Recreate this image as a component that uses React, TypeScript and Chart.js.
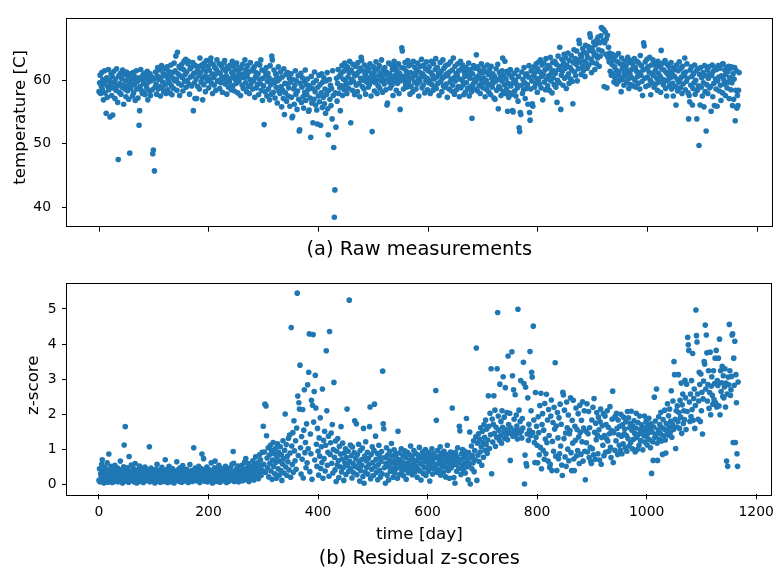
import React, { useEffect, useRef } from 'react';
import { Chart, registerables } from 'chart.js';

Chart.register(...registerables);

// ---- Data (one value per day, day = index) ----
// Temperature [C], days 0-299
const tempA = [
  58.2, 59.6, 60.8, 57.9, 59.1, 61.2, 58.6, 60.1, 56.9, 59.4,
  61.5, 58.0, 59.8, 54.8, 60.4, 57.3, 59.0, 61.7, 58.5, 60.0,
  54.2, 59.3, 61.0, 57.6, 60.6, 54.5, 58.8, 61.4, 59.7, 57.1,
  60.2, 58.4, 61.8, 59.1, 56.5, 47.5, 60.7, 58.1, 59.5, 61.1,
  57.8, 60.3, 58.9, 61.6, 59.2, 56.2, 60.9, 58.6, 59.9, 57.4,
  61.3, 59.0, 58.3, 60.5, 57.0, 59.6, 48.5, 61.0, 58.7, 60.2,
  59.4, 57.5, 61.2, 58.0, 60.7, 59.3, 56.8, 60.0, 61.5, 58.6,
  59.8, 57.2, 60.4, 52.9, 55.2, 59.0, 61.7, 58.4, 60.1, 57.9,
  60.8, 59.5, 58.1, 61.1, 57.7, 60.3, 59.2, 58.8, 61.4, 56.9,
  59.7, 60.6, 58.3, 61.0, 57.6, 59.9, 60.5, 58.5, 48.4, 49.0,
  60.2, 45.7, 58.9, 61.3, 59.4, 57.8, 60.7, 62.0, 58.6, 60.1,
  59.0, 61.6, 57.5, 60.4, 62.3, 58.8, 59.7, 61.0, 58.2, 60.9,
  61.8, 59.3, 57.9, 60.6, 62.1, 58.5, 60.0, 61.4, 59.6, 58.0,
  60.8, 62.4, 59.1, 57.7, 61.2, 60.3, 58.7, 62.7, 59.9, 61.5,
  63.8, 60.1, 58.4, 64.4, 61.0, 59.5, 62.2, 57.6, 60.7, 61.9,
  59.2, 62.5, 60.4, 58.3, 61.7, 63.0, 59.8, 60.9, 63.3, 58.9,
  61.3, 60.0, 62.6, 63.0, 59.4, 57.8, 61.8, 60.5, 62.0, 59.1,
  60.7, 62.8, 55.2, 61.1, 59.6, 57.1, 62.3, 60.2, 57.1, 61.5,
  59.0, 62.1, 60.8, 58.6, 63.5, 61.2, 59.7, 62.4, 60.3, 56.9,
  61.9, 59.3, 62.7, 60.6, 58.2, 61.4, 63.1, 59.9, 60.5, 62.2,
  58.8, 61.6, 60.1, 62.9, 63.5, 59.5, 61.0, 57.9, 62.5, 60.4,
  59.2, 62.0, 60.9, 58.4, 61.7, 63.2, 59.8, 61.3, 60.0, 62.6,
  58.7, 61.1, 59.6, 62.3, 60.5, 58.1, 61.8, 60.2, 62.8, 63.1,
  59.4, 61.5, 60.7, 57.8, 62.1, 60.0, 58.9, 61.9, 59.7, 62.4,
  60.3, 58.5, 61.2, 63.0, 59.1, 60.8, 62.2, 58.3, 61.6, 60.1,
  59.5, 62.7, 60.6, 58.0, 61.4, 59.8, 62.0, 60.3, 57.6, 61.9,
  60.9, 59.2, 62.5, 58.7, 61.0, 60.4, 63.2, 59.6, 61.7, 58.2,
  60.7, 62.3, 59.0, 61.3, 57.9, 60.1, 62.8, 59.4, 61.5, 60.0,
  58.6, 61.8, 59.9, 62.1, 57.3, 60.5, 61.2, 58.8, 62.6, 59.3,
  61.0, 57.7, 60.2, 62.4, 59.5, 63.2, 58.4, 61.6, 56.8, 60.3,
];
// Temperature [C], days 300-599
const tempB = [
  59.1, 53.0, 61.4, 58.2, 60.7, 62.0, 57.5, 59.8, 61.1, 58.6,
  60.4, 56.9, 62.3, 59.3, 57.8, 63.8, 63.2, 60.0, 58.1, 61.6,
  59.6, 57.2, 61.0, 58.9, 60.6, 56.4, 59.9, 62.1, 58.3, 60.2,
  57.9, 61.3, 59.0, 55.8, 60.5, 58.4, 57.1, 61.8, 54.6, 59.5,
  58.0, 60.9, 56.7, 59.4, 61.2, 57.5, 58.8, 60.3, 55.9, 59.7,
  61.0, 57.3, 54.1, 54.3, 60.1, 58.6, 56.2, 59.2, 61.5, 57.8,
  59.9, 55.4, 58.3, 60.7, 57.0, 52.0, 52.2, 59.5, 61.1, 56.5,
  58.9, 60.4, 57.4, 55.6, 59.8, 58.1, 61.6, 56.8, 59.3, 57.7,
  60.2, 58.5, 55.1, 55.3, 59.1, 57.2, 51.0, 60.6, 56.4, 58.7,
  53.3, 59.6, 57.0, 61.3, 58.2, 56.1, 60.0, 55.3, 53.1, 58.9,
  57.5, 60.8, 56.6, 59.3, 52.9, 58.0, 61.0, 55.7, 59.7, 57.3,
  60.4, 56.3, 58.6, 54.8, 59.9, 57.8, 61.2, 55.5, 51.4, 58.4,
  60.1, 57.0, 59.2, 56.0, 58.7, 53.9, 61.5, 57.6, 49.4, 38.4,
  42.7, 58.0, 52.6, 60.3, 56.7, 59.5, 61.7, 57.9, 60.6, 58.8,
  55.2, 61.0, 59.1, 62.3, 57.6, 60.2, 61.4, 58.5, 62.7, 60.0,
  59.3, 61.8, 57.9, 62.1, 60.5, 58.7, 61.2, 63.0, 59.6, 53.3,
  61.6, 60.1, 58.4, 62.5, 59.8, 61.0, 57.7, 60.7, 62.2, 59.2,
  60.9, 58.2, 62.8, 61.3, 59.5, 57.4, 61.9, 60.3, 63.6, 63.1,
  59.0, 61.5, 60.0, 58.6, 62.4, 60.8, 57.8, 61.2, 59.7, 62.0,
  60.4, 58.9, 61.7, 59.3, 62.6, 60.2, 57.5, 61.0, 51.9, 59.8,
  62.1, 60.6, 58.3, 61.4, 59.6, 62.9, 60.0, 57.9, 61.8, 59.1,
  60.7, 62.3, 58.7, 61.1, 59.9, 63.2, 60.4, 58.1, 61.6, 60.0,
  59.4, 62.0, 60.9, 58.5, 61.3, 56.1, 56.4, 60.2, 62.7, 59.7,
  61.0, 58.8, 60.5, 62.4, 59.2, 61.7, 57.6, 60.1, 63.0, 59.8,
  60.8, 62.2, 58.4, 61.5, 59.5, 60.3, 62.6, 57.9, 61.1, 55.4,
  59.9, 62.0, 65.1, 64.6, 60.6, 58.6, 61.9, 60.0, 62.8, 59.3,
  61.4, 58.9, 60.7, 63.1, 59.6, 62.3, 60.2, 57.8, 61.2, 59.0,
  62.5, 60.4, 58.2, 63.0, 61.0, 59.7, 62.0, 60.8, 58.6, 61.6,
  59.4, 62.7, 60.1, 57.5, 61.3, 59.8, 62.2, 60.5, 63.3, 58.8,
  61.0, 59.2, 62.4, 60.6, 58.0, 61.8, 59.9, 62.9, 60.3, 58.5,
];
// Temperature [C], days 600-899
const tempC = [
  61.5, 59.6, 62.1, 60.0, 57.9, 61.2, 63.0, 59.3, 60.8, 58.4,
  62.6, 60.2, 59.0, 61.7, 63.4, 58.7, 60.5, 62.0, 59.5, 61.1,
  57.6, 60.9, 62.8, 59.8, 61.4, 58.2, 60.3, 63.2, 59.1, 61.9,
  60.6, 58.9, 62.3, 59.4, 61.0, 57.3, 60.7, 62.5, 58.6, 61.3,
  59.7, 62.9, 60.1, 58.3, 61.6, 59.2, 63.5, 60.4, 57.8, 62.2,
  59.9, 61.1, 58.5, 60.8, 62.6, 59.0, 61.5, 57.4, 60.2, 63.0,
  58.8, 61.8, 60.0, 62.4, 59.3, 57.7, 61.2, 60.6, 58.1, 62.0,
  59.6, 61.4, 58.7, 60.9, 62.7, 57.5, 60.3, 61.7, 59.0, 58.2,
  54.0, 61.0, 59.4, 62.3, 60.1, 58.6, 61.9, 59.8, 64.0, 60.5,
  58.3, 62.1, 60.7, 59.1, 61.5, 57.9, 60.2, 62.6, 59.5, 61.2,
  58.8, 60.4, 62.0, 59.7, 57.4, 61.3, 60.0, 58.5, 62.4, 59.2,
  60.9, 58.1, 61.6, 59.4, 57.7, 62.2, 60.3, 58.9, 61.0, 59.6,
  57.2, 60.6, 57.0, 59.8, 61.8, 58.4, 60.1, 62.5, 55.5, 59.0,
  61.2, 58.7, 60.5, 57.6, 59.9, 61.5, 63.5, 58.2, 60.8, 59.3,
  63.0, 57.9, 60.2, 58.6, 61.4, 55.1, 59.5, 57.3, 60.9, 58.0,
  61.7, 59.1, 57.8, 60.4, 55.2, 55.0, 59.7, 61.1, 58.3, 60.0,
  57.5, 59.4, 61.6, 58.8, 56.7, 60.6, 52.5, 51.9, 54.9, 54.6,
  59.2, 61.3, 57.9, 60.1, 58.5, 62.0, 59.6, 57.1, 60.8, 58.7,
  61.0, 59.3, 56.2, 60.5, 62.3, 54.9, 53.7, 58.6, 61.5, 59.9,
  56.3, 55.9, 60.7, 62.1, 58.9, 61.2, 59.5, 62.6, 60.3, 58.1,
  61.8, 60.0, 62.9, 59.4, 61.3, 63.2, 58.8, 60.6, 62.4, 56.9,
  60.9, 62.7, 59.7, 61.6, 58.5, 63.4, 60.2, 61.9, 59.1, 62.3,
  60.7, 58.4, 62.0, 63.6, 59.9, 61.2, 58.0, 62.8, 60.4, 61.5,
  59.3, 63.0, 61.1, 58.9, 62.5, 56.5, 60.0, 63.8, 61.7, 59.6,
  65.2, 62.2, 55.4, 60.8, 63.3, 61.4, 59.2, 62.7, 64.1, 60.3,
  61.9, 63.5, 58.7, 62.4, 60.6, 64.3, 61.0, 59.5, 63.1, 62.0,
  60.2, 63.9, 61.6, 59.8, 56.3, 62.8, 64.8, 61.3, 63.4, 60.7,
  62.5, 64.6, 59.9, 63.2, 61.8, 66.3, 65.8, 62.9, 64.0, 60.9,
  63.7, 62.2, 65.0, 61.5, 64.4, 63.0, 60.6, 65.5, 62.7, 64.2,
  61.9, 63.6, 65.3, 62.4, 64.7, 67.3, 66.8, 63.3, 61.2, 65.1,
];
// Temperature [C], days 900-1167
const tempD = [
  62.8, 64.5, 66.0, 63.9, 61.7, 65.6, 64.0, 62.6, 66.4, 63.5,
  66.8, 64.8, 62.2, 65.9, 63.8, 67.0, 68.3, 64.6, 68.1, 66.2,
  68.0, 59.0, 65.9, 67.6, 64.1, 66.5, 58.8, 67.1, 63.6, 65.2,
  62.9, 64.3, 61.4, 63.7, 60.8, 62.5, 64.1, 61.0, 63.2, 59.7,
  62.1, 60.3, 63.8, 61.6, 59.4, 62.9, 60.9, 64.2, 61.3, 59.9,
  62.6, 60.5, 58.2, 63.5, 61.8, 60.1, 62.4, 59.2, 61.1, 63.0,
  60.7, 62.2, 59.6, 61.5, 63.6, 60.2, 58.7, 62.8, 61.0, 59.3,
  63.1, 61.7, 60.4, 62.5, 59.1, 61.9, 63.4, 60.0, 62.0, 58.9,
  61.4, 63.0, 60.6, 59.5, 62.7, 61.2, 58.6, 63.9, 60.8, 62.3,
  59.8, 57.6, 61.6, 65.9, 65.4, 60.3, 62.9, 59.0, 61.8, 63.3,
  60.5, 62.1, 59.2, 61.3, 63.6, 60.0, 57.7, 62.4, 59.6, 61.0,
  63.2, 60.7, 58.9, 62.6, 61.5, 59.4, 62.0, 60.3, 58.4, 63.0,
  61.1, 59.7, 62.3, 60.6, 58.1, 64.7, 61.8, 60.2, 62.7, 59.3,
  61.6, 60.0, 63.1, 58.7, 61.2, 57.5, 62.5, 59.9, 60.8, 62.2,
  59.1, 61.4, 60.4, 62.8, 58.6, 61.0, 59.5, 57.5, 62.0, 60.6,
  61.7, 59.0, 56.1, 62.4, 60.2, 58.3, 61.5, 59.7, 62.9, 60.1,
  58.8, 61.9, 60.5, 57.9, 62.2, 59.4, 61.1, 60.7, 63.5, 58.5,
  61.3, 59.8, 62.6, 60.3, 58.0, 53.9, 57.6, 56.6, 61.6, 59.2,
  62.1, 60.6, 56.1, 58.7, 61.0, 59.6, 62.4, 57.8, 60.0, 61.5,
  53.9, 58.4, 61.8, 59.1, 49.7, 60.9, 56.1, 62.0, 58.9, 60.4,
  57.5, 61.2, 59.6, 55.8, 62.3, 58.2, 60.7, 52.0, 59.3, 61.6,
  57.9, 60.3, 62.1, 58.8, 61.0, 59.0, 55.1, 60.8, 62.4, 57.4,
  61.4, 59.5, 56.0, 62.0, 60.2, 58.6, 61.7, 55.9, 59.9, 62.3,
  60.5, 58.3, 61.9, 59.2, 56.8, 60.7, 62.5, 58.0, 62.6, 60.1,
  59.4, 61.6, 57.6, 60.9, 62.0, 58.8, 61.3, 59.7, 62.2, 57.1,
  60.4, 61.8, 58.5, 62.1, 59.6, 56.0, 61.0, 57.0, 60.2, 62.0,
  53.6, 58.4, 61.5, 55.6, 57.6, 56.0, 58.4, 61.2,
];

// Residual z-scores, days 0-299
const zA = [
  0.12, 0.45, 0.08, 0.31, 0.22, 0.58, 0.71, 0.15, 0.38, 0.05,
  0.27, 0.49, 0.10, 0.34, 0.19, 0.62, 0.07, 0.41, 0.87, 0.24,
  0.36, 0.13, 0.52, 0.29, 0.06, 0.44, 0.18, 0.33, 0.09, 0.55,
  0.21, 0.40, 0.14, 0.28, 0.47, 0.08, 0.35, 0.23, 0.11, 0.67,
  0.30, 0.16, 0.43, 0.05, 0.26, 0.51, 1.13, 0.19, 1.65, 0.37,
  0.10, 0.32, 0.48, 0.22, 0.07, 0.80, 0.39, 0.15, 0.27, 0.56,
  0.12, 0.34, 0.20, 0.45, 0.08, 0.29, 0.60, 0.17, 0.38, 0.05,
  0.24, 0.42, 0.13, 0.31, 0.53, 0.09, 0.36, 0.21, 0.16, 0.46,
  0.28, 0.06, 0.39, 0.18, 0.50, 0.25, 0.11, 0.33, 0.43, 0.14,
  0.22, 0.37, 1.08, 0.08, 0.29, 0.47, 0.19, 0.12, 0.40, 0.26,
  0.15, 0.35, 0.05, 0.28, 0.44, 0.20, 0.58, 0.10, 0.32, 0.17,
  0.41, 0.23, 0.07, 0.36, 0.14, 0.49, 0.27, 0.09, 0.19, 0.38,
  0.30, 0.71, 0.12, 0.25, 0.43, 0.06, 0.34, 0.21, 0.52, 0.16,
  0.08, 0.39, 0.26, 0.13, 0.46, 0.30, 0.18, 0.05, 0.37, 0.24,
  0.11, 0.33, 0.65, 0.20, 0.42, 0.15, 0.28, 0.09, 0.48, 0.35,
  0.19, 0.07, 0.31, 0.54, 0.22, 0.40, 0.12, 0.26, 0.36, 0.10,
  0.44, 0.17, 0.29, 0.06, 0.38, 0.23, 0.57, 0.14, 0.32, 0.20,
  0.09, 0.41, 0.27, 1.05, 0.16, 0.35, 0.47, 0.11, 0.24, 0.39,
  0.13, 0.30, 0.52, 0.21, 0.06, 0.37, 0.18, 0.45, 0.87, 0.25,
  0.34, 0.74, 0.10, 0.28, 0.41, 0.15, 0.23, 0.50, 0.08, 0.32,
  0.19, 0.43, 0.27, 0.12, 0.36, 0.62, 0.22, 0.05, 0.39, 0.30,
  0.14, 0.48, 0.67, 0.25, 0.09, 0.34, 0.20, 0.42, 0.16, 0.55,
  0.28, 0.07, 0.38, 0.23, 0.46, 0.11, 0.31, 0.18, 0.40, 0.13,
  0.35, 0.52, 0.21, 0.06, 0.29, 0.44, 0.17, 0.37, 0.10, 0.26,
  0.48, 0.15, 0.33, 0.58, 0.22, 0.94, 0.61, 0.09, 0.39, 0.27,
  0.12, 0.45, 0.30, 0.19, 0.53, 0.08, 0.36, 0.24, 0.41, 0.16,
  0.32, 0.55, 0.11, 0.43, 0.27, 0.20, 0.64, 0.38, 0.74, 0.14,
  0.47, 0.23, 0.35, 0.60, 0.09, 0.41, 0.29, 0.52, 0.18, 0.36,
  0.25, 0.68, 0.44, 0.13, 0.57, 0.33, 0.79, 0.21, 0.49, 0.38,
  0.62, 0.17, 0.46, 0.85, 0.30, 0.71, 0.26, 0.55, 0.92, 0.40,
];
// Residual z-scores, days 300-599
const zB = [
  1.66, 0.58, 0.93, 2.29, 0.35, 2.24, 1.39, 0.76, 0.48, 1.05,
  0.22, 0.84, 0.61, 1.12, 0.39, 0.97, 0.15, 0.70, 1.20, 0.52,
  0.88, 0.31, 1.03, 0.64, 0.18, 0.79, 1.16, 0.45, 0.92, 0.27,
  0.67, 1.08, 0.40, 0.85, 0.12, 0.59, 1.25, 0.74, 0.33, 0.98,
  2.01, 0.50, 1.14, 0.26, 0.81, 0.65, 1.32, 0.42, 1.41, 0.90,
  0.21, 4.47, 1.10, 0.57, 1.48, 0.35, 1.82, 0.96, 0.68, 1.25,
  0.44, 1.61, 5.45, 2.52, 0.83, 2.33, 2.15, 3.40, 1.05, 0.30,
  1.37, 0.72, 2.14, 0.19, 1.55, 2.70, 0.91, 1.20, 0.48, 1.73,
  0.62, 2.84, 1.02, 3.20, 4.29, 0.37, 1.44, 0.88, 2.40, 0.15,
  2.26, 4.27, 1.78, 2.65, 0.70, 3.11, 2.18, 1.15, 0.52, 1.60,
  0.95, 0.27, 1.33, 0.81, 1.90, 0.46, 1.08, 0.63, 2.72, 0.18,
  1.26, 0.74, 1.52, 0.39, 1.12, 3.81, 2.10, 0.55, 0.92, 1.38,
  0.24, 4.36, 0.86, 1.19, 1.47, 0.61, 1.71, 0.33, 1.00, 2.91,
  0.78, 0.42, 1.24, 0.09, 0.95, 0.56, 1.31, 0.68, 0.20, 1.09,
  0.51, 0.87, 1.65, 0.36, 0.73, 1.18, 0.48, 0.12, 0.90, 0.62,
  1.02, 0.29, 0.77, 2.15, 0.54, 0.95, 0.38, 5.25, 0.66, 1.13,
  0.45, 0.82, 0.19, 1.07, 0.60, 0.34, 0.91, 1.82, 0.52, 0.74,
  1.73, 0.28, 0.86, 0.47, 1.15, 0.63, 0.10, 0.97, 0.40, 0.71,
  0.55, 1.04, 0.23, 1.60, 0.04, 0.81, 0.36, 1.22, 0.68, 0.49,
  0.92, 0.30, 0.75, 0.58, 1.65, 2.21, 0.17, 0.86, 0.44, 1.08,
  0.63, 0.26, 0.98, 2.29, 0.51, 1.38, 0.72, 0.35, 0.89, 0.14,
  0.57, 1.12, 0.41, 0.80, 0.22, 0.66, 0.94, 0.31, 3.23, 1.73,
  1.59, 0.48, 0.77, 0.04, 0.60, 1.05, 0.27, 0.84, 0.52, 0.13,
  0.70, 0.95, 0.38, 0.61, 1.17, 0.45, 0.82, 0.21, 0.67, 0.99,
  0.33, 0.56, 0.88, 0.46, 0.74, 0.18, 1.52, 0.62, 0.90, 0.29,
  0.71, 0.49, 1.02, 0.37, 0.64, 0.83, 0.25, 0.58, 0.96, 0.43,
  0.77, 0.15, 0.60, 0.92, 0.51, 0.34, 0.86, 0.69, 0.40, 1.10,
  0.55, 0.81, 0.28, 0.73, 0.47, 0.97, 0.63, 0.36, 0.89, 0.52,
  0.68, 0.21, 0.85, 0.44, 0.75, 1.06, 0.39, 0.60, 0.13, 0.79,
  0.57, 0.93, 0.32, 0.71, 0.48, 0.84, 1.00, 0.26, 0.65, 0.50,
];
// Residual z-scores, days 600-899
const zC = [
  0.74, 0.38, 0.91, 0.56, 0.10, 0.83, 0.47, 0.69, 1.02, 0.30,
  0.62, 0.88, 0.45, 0.76, 0.53, 2.68, 1.83, 0.35, 0.97, 0.59,
  0.81, 0.42, 0.70, 1.08, 0.27, 0.64, 0.90, 0.51, 0.78, 0.36,
  0.95, 0.58, 0.73, 0.22, 0.86, 0.49, 1.12, 0.66, 0.40, 0.80,
  0.18, 0.61, 0.93, 0.47, 0.75, 2.18, 0.55, 0.84, 0.20, 0.69,
  0.04, 0.92, 0.57, 0.38, 0.79, 1.05, 0.63, 0.46, 1.66, 1.53,
  0.71, 0.29, 0.88, 0.54, 1.00, 0.42, 0.76, 0.60, 0.95, 0.33,
  0.82, 1.88, 0.50, 0.68, 0.14, 0.91, 0.58, 1.50, 0.02, 0.77,
  1.10, 0.45, 0.83, 0.62, 1.25, 0.37, 0.97, 0.71, 1.36, 3.89,
  0.12, 1.18, 0.84, 1.45, 0.66, 1.30, 0.93, 1.62, 1.08, 0.55,
  1.52, 1.20, 0.78, 1.71, 1.35, 0.98, 1.84, 1.14, 1.58, 0.89,
  1.27, 2.53, 1.66, 1.03, 2.03, 1.42, 3.30, 0.31, 1.87, 1.21,
  1.72, 2.53, 1.46, 2.12, 1.09, 1.63, 1.35, 3.30, 4.90, 1.95,
  1.55, 1.26, 2.86, 1.40, 1.80, 1.18, 2.10, 1.63, 3.07, 1.48,
  1.92, 1.32, 2.76, 1.57, 1.43, 2.05, 1.28, 3.66, 1.71, 1.50,
  2.03, 0.69, 1.62, 1.45, 3.78, 3.10, 1.38, 2.70, 1.86, 1.54,
  2.56, 1.42, 1.98, 1.67, 1.30, 4.99, 1.55, 2.12, 1.47, 1.80,
  2.96, 1.52, 1.33, 1.88, 1.61, 3.48, 2.88, 0.02, 0.84, 2.77,
  0.60, 0.53, 1.44, 2.47, 1.26, 1.72, 1.55, 3.79, 1.39, 2.10,
  3.20, 3.06, 1.48, 4.51, 1.84, 1.20, 0.63, 2.62, 1.35, 1.66,
  1.12, 0.62, 1.93, 1.48, 0.85, 2.25, 1.06, 2.60, 0.45, 1.71,
  2.02, 0.98, 1.55, 0.72, 2.31, 1.30, 0.88, 2.57, 1.19, 1.84,
  0.67, 2.14, 1.40, 0.49, 0.58, 1.95, 2.41, 0.40, 1.23, 1.77,
  0.95, 2.20, 1.58, 3.47, 0.81, 1.67, 0.40, 2.05, 1.33, 0.74,
  1.90, 0.88, 2.29, 1.10, 1.72, 0.56, 0.26, 2.63, 2.55, 1.31,
  2.12, 0.79, 1.47, 0.52, 2.35, 1.62, 1.01, 1.98, 0.68, 1.45,
  1.54, 2.47, 0.91, 0.40, 1.83, 1.18, 2.40, 0.73, 0.40, 1.66,
  1.26, 2.18, 0.82, 1.57, 0.97, 2.02, 1.36, 0.60, 2.26, 1.49,
  0.86, 1.83, 1.22, 2.36, 0.67, 1.61, 2.10, 0.95, 0.14, 1.52,
  1.19, 2.30, 0.93, 1.45, 2.08, 0.77, 1.62, 1.06, 0.66, 0.60,
];
// Residual z-scores, days 900-1167
const zD = [
  1.84, 1.02, 2.20, 0.85, 2.45, 1.49, 0.72, 1.75, 1.28, 2.05,
  1.41, 0.88, 1.92, 1.56, 0.70, 1.79, 2.15, 0.58, 1.34, 1.68,
  1.12, 2.02, 0.82, 1.40, 1.95, 0.92, 1.71, 1.30, 2.10, 1.24,
  1.63, 0.95, 1.45, 2.22, 1.06, 0.77, 1.54, 1.86, 2.66, 0.63,
  1.48, 1.90, 0.98, 1.95, 1.25, 2.03, 1.60, 0.86, 1.84, 1.42,
  1.12, 1.66, 0.98, 2.00, 1.38, 0.88, 1.70, 1.16, 1.92, 1.45,
  1.58, 1.05, 1.79, 1.40, 0.95, 2.08, 1.31, 1.90, 1.10, 1.62,
  1.74, 1.20, 2.09, 1.55, 1.02, 1.67, 1.29, 1.82, 1.46, 0.93,
  1.61, 2.03, 1.34, 1.00, 1.77, 1.43, 1.12, 1.95, 1.57, 1.25,
  1.25, 1.70, 1.48, 0.99, 1.62, 1.39, 1.95, 1.21, 1.54, 1.80,
  1.36, 1.13, 1.68, 1.47, 1.89, 1.28, 1.59, 1.05, 1.73, 0.32,
  1.50, 1.22, 0.69, 1.64, 2.49, 1.35, 1.81, 1.43, 2.72, 1.18,
  0.69, 1.56, 1.93, 1.30, 1.71, 1.46, 2.06, 1.24, 1.62, 0.86,
  1.85, 1.39, 1.58, 2.12, 1.27, 0.90, 1.74, 1.52, 2.30, 1.41,
  1.96, 1.63, 2.15, 1.48, 1.80, 2.67, 1.35, 1.72, 2.38, 1.57,
  3.50, 3.13, 1.86, 1.03, 2.10, 1.64, 2.24, 1.80, 3.13, 2.05,
  1.60, 2.40, 1.92, 2.89, 1.46, 2.27, 2.58, 1.74, 2.10, 1.85,
  2.97, 2.47, 1.57, 2.86, 2.08, 4.19, 3.98, 3.82, 2.35, 1.80,
  2.58, 1.94, 2.96, 2.14, 3.73, 1.83, 2.45, 2.72, 1.60, 2.25,
  4.97, 4.24, 4.06, 2.58, 1.86, 2.38, 3.20, 2.85, 1.80, 3.15,
  2.10, 2.63, 1.44, 2.44, 2.95, 3.50, 3.43, 4.54, 2.72, 4.26,
  3.75, 2.38, 2.85, 3.24, 2.17, 2.62, 3.77, 1.99, 2.80, 3.07,
  2.54, 2.29, 3.24, 2.42, 2.88, 3.60, 2.33, 3.82, 2.21, 2.96,
  2.82, 3.60, 2.24, 4.14, 1.99, 3.24, 2.65, 2.90, 3.37, 2.51,
  3.10, 2.47, 2.78, 3.30, 2.21, 2.89, 0.67, 2.58, 0.52, 3.06,
  2.84, 4.56, 3.24, 2.54, 2.70, 3.08, 4.26, 4.29, 1.20, 3.60,
  2.83, 4.08, 1.20, 3.13, 2.33, 0.88, 0.52, 2.92,
];

const temperature = [...tempA, ...tempB, ...tempC, ...tempD];
const zScores = [...zA, ...zB, ...zC, ...zD];

const dayTicks = [0, 200, 400, 600, 800, 1000, 1200];
const temperatureTicks = [40, 50, 60];
const zTicks = [0, 1, 2, 3, 4, 5];

const FONT = "'DejaVu Sans', 'Liberation Sans', sans-serif";
const BLUE = '#1f77b4';
const W = 779;

type TextSpec = { text: string; x: number; y: number; size: number; rotate?: boolean };

interface PanelSpec {
  values: number[];
  yMin: number;
  yMax: number;
  yTicks: number[];
  showXLabels: boolean;
  padTop: number;
  xAxisHeight: number;
  yTickPad: number;
  texts: TextSpec[];
}

function buildChart(canvas: HTMLCanvasElement, p: PanelSpec) {
  const points = p.values.map((v, i) => ({ x: i, y: v }));
  return new Chart(canvas, {
    type: 'scatter',
    data: {
      datasets: [
        {
          data: points,
          backgroundColor: BLUE,
          borderColor: BLUE,
          borderWidth: 0,
          pointRadius: 2.8,
          pointHoverRadius: 2.8,
        },
      ],
    },
    options: {
      responsive: false,
      animation: false,
      events: [],
      layout: { padding: { top: p.padTop, right: W - 771.7, left: 0, bottom: 0 }, autoPadding: false },
      plugins: { legend: { display: false }, tooltip: { enabled: false }, title: { display: false } },
      scales: {
        x: {
          type: 'linear',
          min: -58.4,
          max: 1226.5,
          afterBuildTicks: (s: any) => {
            s.ticks = dayTicks.map((v) => ({ value: v }));
          },
          afterFit: (s: any) => {
            s.height = p.xAxisHeight;
          },
          border: { display: false },
          grid: { drawOnChartArea: false, drawTicks: true, tickLength: 5, tickColor: '#000', tickWidth: 1 },
          ticks: {
            color: '#000',
            font: { family: FONT, size: 13.9 },
            padding: 5,
            maxRotation: 0,
            autoSkip: false,
            callback: (v: any) => (p.showXLabels ? String(v) : ''),
          },
        },
        y: {
          type: 'linear',
          min: p.yMin,
          max: p.yMax,
          afterBuildTicks: (s: any) => {
            s.ticks = p.yTicks.map((v) => ({ value: v }));
          },
          afterFit: (s: any) => {
            s.width = 67;
          },
          border: { display: false },
          grid: { drawOnChartArea: false, drawTicks: true, tickLength: 5, tickColor: '#000', tickWidth: 1 },
          ticks: {
            color: '#000',
            font: { family: FONT, size: 13.9 },
            padding: p.yTickPad,
            autoSkip: false,
            callback: (v: any) => String(v),
          },
        },
      },
    },
    plugins: [
      {
        id: 'frameAndText',
        afterDraw(chart: any) {
          const { ctx, chartArea: a } = chart;
          ctx.save();
          ctx.strokeStyle = '#000';
          ctx.lineWidth = 1;
          ctx.strokeRect(Math.round(a.left) - 0.5, Math.round(a.top) - 0.5, Math.round(a.right - a.left) + 1, Math.round(a.bottom - a.top) + 1);
          ctx.fillStyle = '#000';
          ctx.textAlign = 'center';
          ctx.textBaseline = 'alphabetic';
          for (const t of p.texts) {
            ctx.font = `${t.size}px ${FONT}`;
            if (t.rotate) {
              ctx.save();
              ctx.translate(t.x, t.y);
              ctx.rotate(-Math.PI / 2);
              ctx.fillText(t.text, 0, 0);
              ctx.restore();
            } else {
              ctx.fillText(t.text, t.x, t.y);
            }
          }
          ctx.restore();
        },
      },
    ],
  } as any);
}

const TOP_H = 270;
const BOTTOM_H = 579 - TOP_H;

export default function App() {
  const topRef = useRef<HTMLCanvasElement | null>(null);
  const bottomRef = useRef<HTMLCanvasElement | null>(null);

  useEffect(() => {
    if (!topRef.current || !bottomRef.current) return;
    const top = buildChart(topRef.current, {
      values: temperature,
      yMin: 36.9,
      yMax: 69.6,
      yTicks: temperatureTicks,
      showXLabels: false,
      padTop: 8,
      xAxisHeight: TOP_H - 226.7,
      yTickPad: 11,
      texts: [
        { text: 'temperature [C]', x: 24.8, y: 117.3, size: 16.7, rotate: true },
        { text: '(a) Raw measurements', x: 419.3, y: 254.8, size: 19.4 },
      ],
    });
    const bottom = buildChart(bottomRef.current, {
      values: zScores,
      yMin: -0.275,
      yMax: 5.72,
      yTicks: zTicks,
      showXLabels: true,
      padTop: 276 - TOP_H,
      xAxisHeight: 579 - 494.3,
      yTickPad: 5.3,
      texts: [
        { text: 'z-score', x: 38.3, y: 385.2 - TOP_H, size: 16.7, rotate: true },
        { text: 'time [day]', x: 419.3, y: 539 - TOP_H, size: 16.7 },
        { text: '(b) Residual z-scores', x: 419.3, y: 564 - TOP_H, size: 19.4 },
      ],
    });
    return () => {
      top.destroy();
      bottom.destroy();
    };
  }, []);

  return (
    <div style={{ position: 'absolute', left: 0, top: 0, width: W, height: 579, background: '#fff' }}>
      <canvas ref={topRef} width={W} height={TOP_H} style={{ display: 'block', width: W, height: TOP_H }} />
      <canvas ref={bottomRef} width={W} height={BOTTOM_H} style={{ display: 'block', width: W, height: BOTTOM_H }} />
    </div>
  );
}
